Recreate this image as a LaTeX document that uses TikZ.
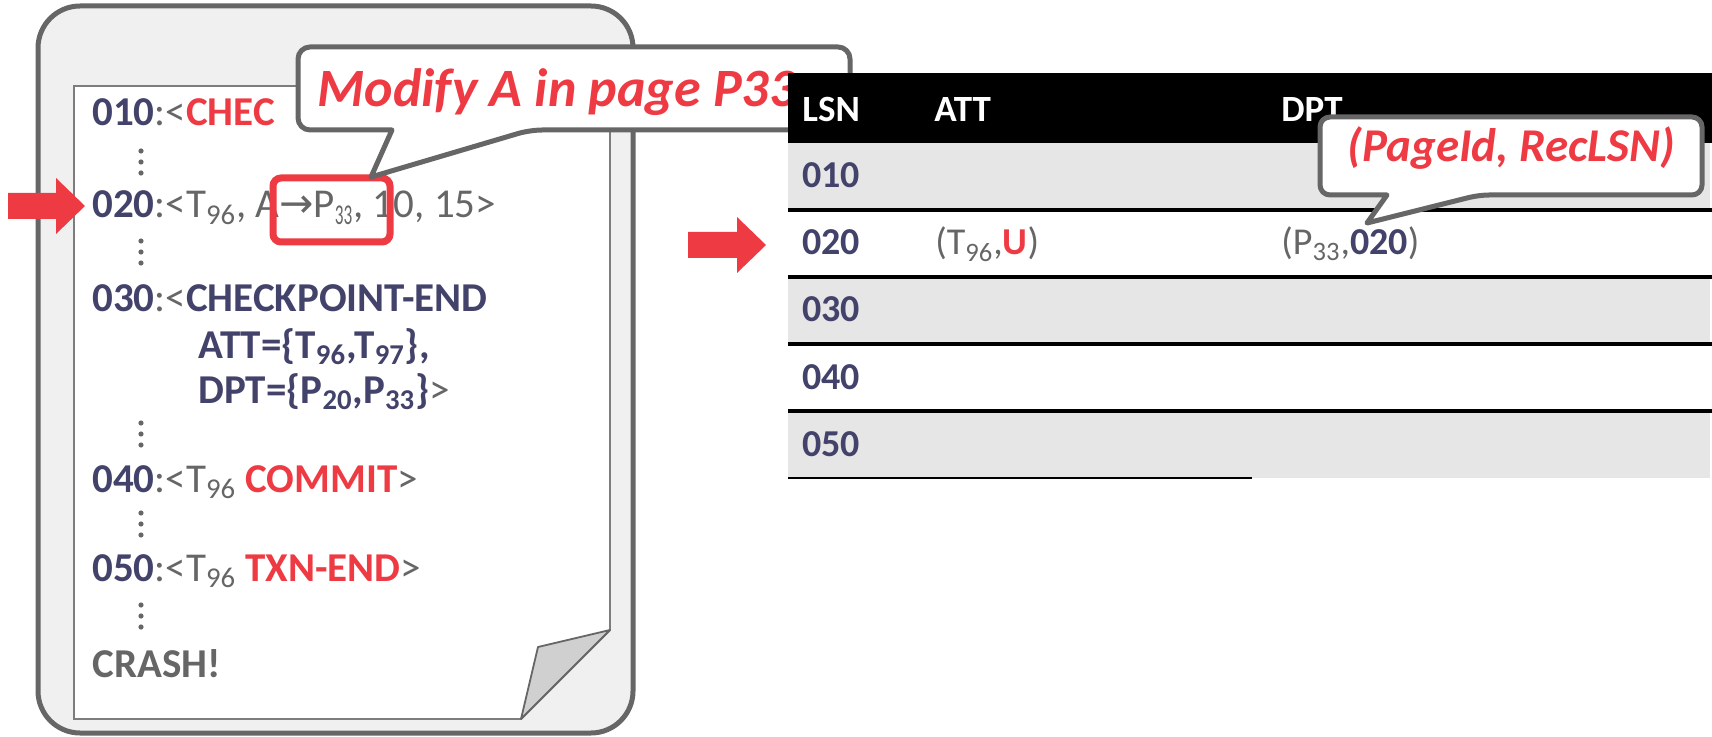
\documentclass[tikz,border=0pt]{standalone}
\usepackage{fontspec}
\setmainfont{Carlito}
\newfontfamily\arrowfont{DejaVu Sans}

\definecolor{navy}{HTML}{42426A}
\definecolor{hired}{HTML}{EE3A43}
\definecolor{midgray}{HTML}{666666}
\definecolor{panelgray}{HTML}{F0F0F0}
\definecolor{rowgray}{HTML}{E6E6E6}
\definecolor{foldgray}{HTML}{D0D0D0}

\newcommand{\lsn}[1]{\textbf{\color{navy}#1}}
\newcommand{\hot}[1]{\textbf{\color{hired}#1}}
\newcommand{\subnum}[1]{\textsubscript{#1}}

\begin{document}
\begin{tikzpicture}[x=0.5pt, y=-0.5pt,
    % --- text styles ---
    logline/.style={anchor=base west, inner sep=0pt, text=midgray,
                    font=\fontsize{20.5}{24}\selectfont},
    cell/.style={anchor=base west, inner sep=0pt, text=midgray,
                 font=\fontsize{19}{23}\selectfont},
    headcell/.style={anchor=base west, inner sep=0pt, text=white,
                     font=\fontsize{18.5}{22}\selectfont\bfseries},
    note/.style={inner sep=0pt, text=hired, font=\bfseries\itshape},
    % --- shape styles ---
    balloon/.style={draw=midgray, line width=2.5pt, fill=white, line join=round},
    bigarrow/.style={fill=hired},
    vdot/.style={fill=midgray},
]
\useasboundingbox (0,0) rectangle (1712,737);

% ============================================================
% Log file (left)
% ============================================================
\draw[draw=midgray, fill=panelgray, line width=2.5pt, rounded corners=21pt]
  (38,6) rectangle (633,733);

% --- page with folded corner ---
\draw[draw=midgray!85, fill=white, line width=0.9pt]
  (74,86) -- (610,86) -- (610,630) -- (521,719) -- (74,719) -- cycle;
\draw[draw=midgray, fill=foldgray, line width=0.9pt, line join=round]
  (610,630) -- (538,647) -- (521,719) -- cycle;

% --- log records ---
\node[logline] (l010) at (92,126) {\lsn{010}:<\hot{CHEC}};
\node[logline] (l020) at (92,218)
  {\lsn{020}:<T\subnum{96}, A{\arrowfont →}P\subnum{\scalebox{0.6}[1]{33}}, 10, 15>};
\node[logline] (l030) at (92,312) {\lsn{030}:<\lsn{CHECKPOINT-END}};
\node[logline] (latt) at (198,358) {\lsn{ATT=\{T\subnum{96},T\subnum{97}\},}};
\node[logline] (ldpt) at (198,403) {\lsn{DPT=\{P\subnum{20},P\subnum{33}\}}>};
\node[logline] (l040) at (92,492) {\lsn{040}:<T\subnum{96} \hot{COMMIT}>};
\node[logline] (l050) at (92,581) {\lsn{050}:<T\subnum{96} \hot{TXN-END}>};
\node[logline, font=\fontsize{20.5}{24}\selectfont\bfseries] (crash) at (92,677) {CRASH!};

% vertical ellipses between records
\foreach \y in {151,241,423,513,605}
  \foreach \k in {0,1,2}
    \fill[vdot] (141,{\y+11*\k}) circle (1.3pt);

% highlighted update
\draw[hired, line width=3.5pt, rounded corners=4pt] (273,178) rectangle (390,242);
\coordinate (tipA) at (371,177);

% current record marker
\fill[bigarrow] (8,193) -- (56,193) -- (56,178) -- (85,206) -- (56,234) -- (56,219) -- (8,219) -- cycle;

% --- callout on the update ---
\draw[balloon] (392,130) [rounded corners=6pt] -- (298,130) -- (298,47) -- (850,47)
  -- (850,130) -- (530,130) [sharp corners] -- (tipA) -- cycle;
\node[note, anchor=base west, font=\fontsize{27}{32}\selectfont\bfseries\itshape]
  (modA) at (317,107) {Modify A in page P33};

% ============================================================
% ATT / DPT table (right)
% ============================================================
\fill[black] (788,73) rectangle (1712,143);
\foreach \i/\shade in {0/rowgray,1/white,2/rowgray,3/white,4/rowgray}
  \fill[\shade] (788,{143+67*\i}) rectangle (1710,{210+67*\i});
\foreach \i in {1,...,4}
  \draw[black, line width=1.6pt] (788,{143+67*\i}) -- (1712,{143+67*\i});
\draw[black, line width=0.6pt] (788,478) -- (1252,478);

\node[headcell] (hLSN) at (802,122) {LSN};
\node[headcell] (hATT) at (934,122) {ATT};
\node[headcell] (hDPT) at (1281,122) {DPT};

\foreach \i/\v in {0/010,1/020,2/030,3/040,4/050}
  \node[cell] (r\v) at (802,{188+67*\i}) {\lsn{\v}};

\node[cell] (att020) at (935,255) {(T\subnum{96},\hot{U})};
\node[cell] (dpt020) at (1281,255) {(P\subnum{33},\lsn{020})};

% current row marker
\fill[bigarrow] (688,232) -- (737,232) -- (737,217) -- (766,245) -- (737,273) -- (737,258) -- (688,258) -- cycle;

% --- callout on the DPT entry ---
\coordinate (tipB) at (1367,223);
\draw[balloon] (1387,195) [rounded corners=5pt] -- (1320,195) -- (1320,117) -- (1702,117)
  -- (1702,195) -- (1479,195) [sharp corners] -- (tipB) -- cycle;
\node[note, anchor=base, font=\fontsize{23.5}{28}\selectfont\bfseries\itshape]
  (recA) at (1511,162) {(PageId, RecLSN)};

\end{tikzpicture}
\end{document}
